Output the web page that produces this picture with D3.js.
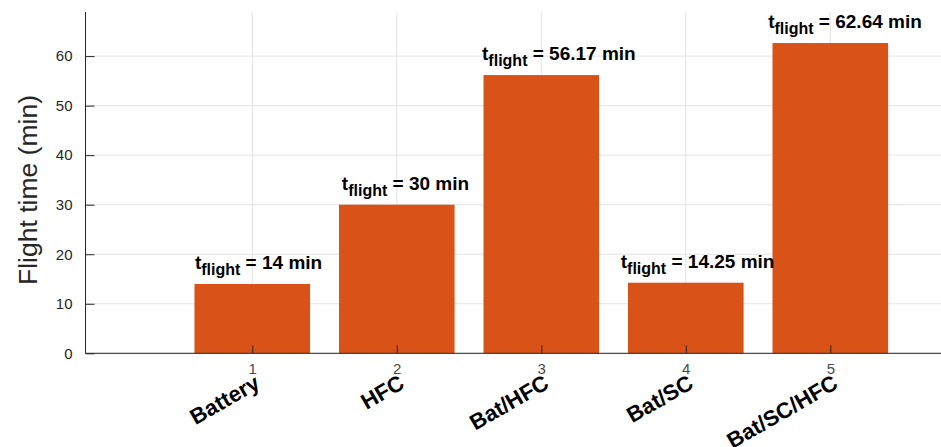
<!DOCTYPE html>
<html><head><meta charset="utf-8">
<script src="https://cdn.jsdelivr.net/npm/d3@7"></script>
<style>body{margin:0;background:#fff}svg{display:block}text{font-family:"Liberation Sans",Arial,Helvetica,sans-serif}</style>
</head><body>
<svg id="c" width="941" height="447"></svg>
<script>
const categories = ["Battery","HFC","Bat/HFC","Bat/SC","Bat/SC/HFC"];
const positions = [1,2,3,4,5];
const flightTime = [14, 30, 56.17, 14.25, 62.64];
const labelText = ["14","30","56.17","14.25","62.64"];
const labelX = [0.603, 1.62, 2.59, 3.55, 4.57];
const yTicks = [0,10,20,30,40,50,60];
const xTicks = [1,2,3,4,5];

(function(){
const svg = d3.select("#c");
const pLeft = 85.5, pRight = 941, pTop = 12, pBottom = 353.3;
const yMax = d3.max(flightTime) * 1.1;
const x = d3.scaleLinear().domain([-0.154, 5.766]).range([pLeft, pRight]);
const y = d3.scaleLinear().domain([0, yMax]).range([pBottom, pTop]);
const axisColor = "#262626";
const gridColor = "#e3e3e3";

// grid
svg.append("g").selectAll("line").data(yTicks).join("line")
  .attr("x1", pLeft).attr("x2", pRight).attr("y1", d => y(d)).attr("y2", d => y(d))
  .attr("stroke", gridColor).attr("stroke-width", 1);
svg.append("g").selectAll("line").data(xTicks).join("line")
  .attr("x1", d => x(d)).attr("x2", d => x(d)).attr("y1", pTop).attr("y2", pBottom)
  .attr("stroke", gridColor).attr("stroke-width", 1);

// bars
svg.append("g").selectAll("rect").data(flightTime).join("rect")
  .attr("x", (d,i) => x(positions[i]-0.4))
  .attr("width", (d,i) => x(positions[i]+0.4) - x(positions[i]-0.4))
  .attr("y", d => y(d))
  .attr("height", d => y(0) - y(d))
  .attr("fill", "#D95319");

// y axis
const yAxis = d3.axisLeft(y).tickValues(yTicks).tickSize(-9).tickPadding(13);
const gy = svg.append("g").attr("transform", `translate(${pLeft},0)`).call(yAxis);
gy.select(".domain").attr("stroke", axisColor).attr("d", `M0,${pTop}V${pBottom}`);
gy.selectAll(".tick line").attr("stroke", axisColor);
gy.selectAll(".tick text").attr("fill", axisColor).style("font-size", "15px")
  .style("font-family", '"Liberation Sans",Arial,sans-serif');

// x axis
const xAxis = d3.axisBottom(x).tickValues(xTicks).tickSize(-8).tickPadding(10).tickFormat(d3.format("d"));
const gx = svg.append("g").attr("transform", `translate(0,${pBottom})`).call(xAxis);
gx.select(".domain").attr("stroke", axisColor).attr("d", `M${pLeft},0H${pRight}`);
gx.selectAll(".tick line").attr("stroke", axisColor);
gx.selectAll(".tick text").attr("fill", "#4a4a4a").style("font-size", "15px")
  .style("font-family", '"Liberation Sans",Arial,sans-serif');

// rotated category labels
svg.append("g").selectAll("text").data(categories).join("text")
  .attr("transform", (d,i) => `translate(${x(positions[i]) + 9},${pBottom + 34}) rotate(-30)`)
  .attr("text-anchor", "end")
  .style("font-size", "22px").style("font-weight", "bold").attr("fill", "#000")
  .text(d => d);

// annotations
const ann = svg.append("g").selectAll("text").data(flightTime).join("text")
  .attr("x", (d,i) => x(labelX[i]))
  .attr("y", d => y(d + 3))
  .style("font-size", "19px").style("font-weight", "bold").attr("fill", "#000");
ann.append("tspan").text("t");
ann.append("tspan").attr("dy", 6).style("font-size", "16px").text("flight");
ann.append("tspan").attr("dy", -6).text((d,i) => " = " + labelText[i] + " min");

// y label
svg.append("text")
  .attr("transform", `translate(37,190) rotate(-90)`)
  .attr("text-anchor", "middle")
  .style("font-size", "26.5px").attr("fill", axisColor)
  .text("Flight time (min)");
})();
</script>
</body></html>
